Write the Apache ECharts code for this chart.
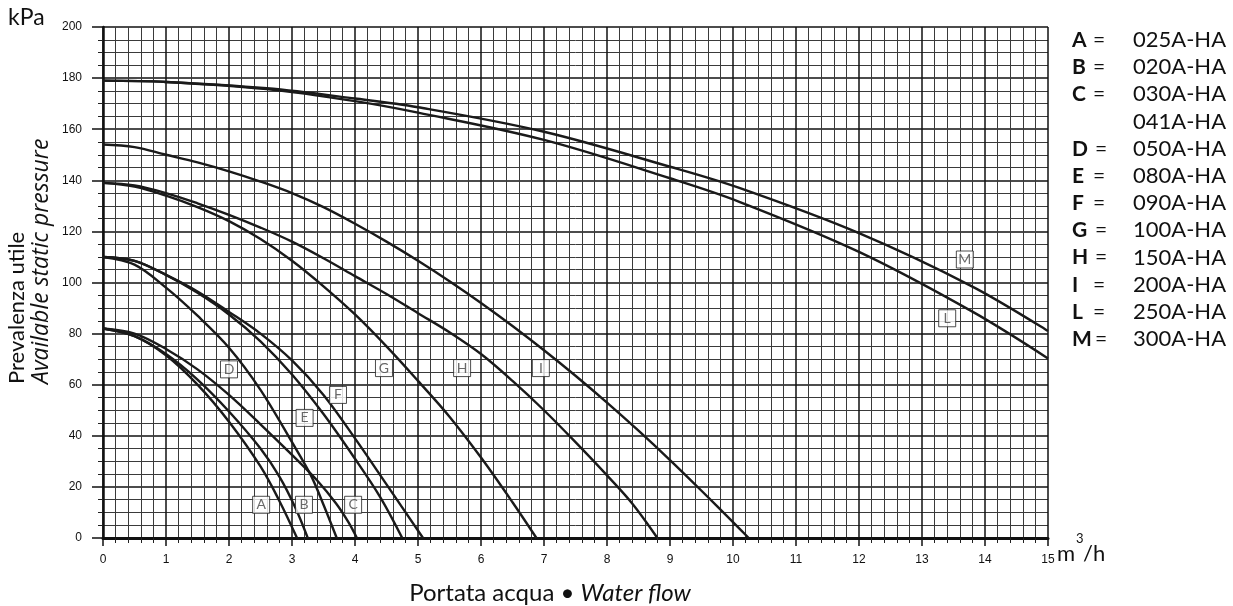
<!DOCTYPE html>
<html>
<head>
<meta charset="utf-8">
<script src="https://cdn.jsdelivr.net/npm/echarts@6/dist/echarts.min.js"></script>
<style>
  html, body { margin: 0; padding: 0; background: #fff; }
  #chart { width: 1233px; height: 606px; }
</style>
</head>
<body>
<div id="chart"></div>
<script>
// Pump curves: water flow (m3/h) vs available static pressure (kPa)
const curveA = [[0,82],[0.5,79],[1.0,71.5],[1.5,60],[2.0,45.5],[2.5,28],[2.8,14.5],[3.08,0]];
const curveB = [[0,82],[0.5,79],[1.0,72],[1.5,62],[2.0,49.5],[2.5,35],[2.8,24],[3.05,12],[3.25,0]];
const curveC = [[0,82],[0.5,80],[1.0,74],[1.5,66],[2.0,56],[2.5,44.5],[3.0,32.5],[3.4,22.5],[3.7,13.5],[3.9,6],[4.03,0]];
const curveD = [[0,110],[0.5,107],[1.0,98],[1.5,87],[2.0,74.5],[2.5,58],[3.0,37.5],[3.3,24.5],[3.5,13],[3.71,0]];
const curveE = [[0,110],[0.5,108.5],[1.0,103],[1.5,96],[2.0,87.5],[2.5,77],[3.0,64],[3.5,48.5],[4.0,31],[4.4,16],[4.75,0]];
const curveF = [[0,110],[0.5,108.5],[1.0,103],[1.5,96.5],[2.0,88.5],[2.5,80],[3.0,69.5],[3.5,56],[4.0,39],[4.5,21],[5.08,0]];
const curveG = [[0,139],[0.5,137.5],[1.0,134],[1.5,129.5],[2.0,124],[2.5,117],[3.0,108.5],[3.5,98.5],[4.0,87.5],[4.5,75],[5.0,61.5],[5.5,47.5],[6.0,31.5],[6.5,14],[6.88,0]];
const curveH = [[0,139],[0.5,138],[1.0,135],[1.5,131],[2.0,126.5],[2.5,121.5],[3.0,116],[3.5,109.5],[4.0,102.5],[4.5,95.5],[5.0,88],[5.5,80.5],[6.0,72],[6.5,61.5],[7.0,50],[7.5,37.5],[8.0,24.5],[8.4,13.5],[8.8,0]];
const curveI = [[0,154],[0.5,153],[1.0,150],[1.5,147],[2.0,143.5],[2.5,139.5],[3.0,135],[3.5,129.5],[4.0,123],[4.5,116],[5.0,108.5],[5.5,100.5],[6.0,92],[6.5,83],[7.0,73.5],[7.5,63.5],[8.0,53],[8.5,42],[9.0,30.5],[9.5,18.5],[10.0,6.2],[10.25,0]];
const curveL = [[0,179],[1.0,178.5],[2.6,175.7],[4.0,171],[5.0,166.5],[7.0,155.8],[9.0,140.8],[10.1,131.6],[12.0,112],[13.8,88.6],[15,70.3]];
const curveM = [[0,179],[1.0,178.5],[2.6,176],[4.0,172],[5.0,168.6],[7.0,159],[9.0,145.3],[10.1,137],[12.0,119.3],[13.8,98.4],[15,81]];

// Boxed letter tags placed next to each curve
const tagLetters = ['A','B','C','D','E','F','G','H','I','L','M'];
const tagPoints = [[2.51,13],[3.19,13],[3.97,13],[2.0,66],[3.2,47],[3.73,56],[4.46,66.5],[5.7,66.5],[6.95,66.5],[13.4,86],[13.68,109]];

// Legend rows: letter and unit model
const legendLetters = ['A','B','C','','D','E','F','G','H','I','L','M'];
const legendModels = ['025A-HA','020A-HA','030A-HA','041A-HA','050A-HA','080A-HA','090A-HA','100A-HA','150A-HA','200A-HA','250A-HA','300A-HA'];

const curves = [curveA, curveB, curveC, curveD, curveE, curveF, curveG, curveH, curveI, curveL, curveM];
const curveNames = ['A','B','C','D','E','F','G','H','I','L','M'];

const chart = echarts.init(document.getElementById('chart'), null, { renderer: 'canvas' });

const lineSeries = curves.map((pts, i) => ({
  name: curveNames[i],
  type: 'line',
  data: pts,
  smooth: 0.35,
  symbol: 'none',
  lineStyle: { color: '#1a1a1a', width: 2.4 },
  z: 3
}));

const tagSeries = {
  type: 'scatter',
  data: tagPoints.map((p, i) => ({ value: p, name: tagLetters[i] })),
  symbol: 'rect',
  symbolSize: [17, 17],
  itemStyle: { color: '#fff', borderColor: '#222', borderWidth: 1 },
  label: {
    show: true,
    position: 'inside',
    formatter: p => p.name,
    color: '#444',
    fontFamily: 'Lato',
    fontSize: 14
  },
  z: 5
};

const ink = '#111';
const graphics = [];
graphics.push({ type: 'text', x: 8, y: 18, style: { text: 'kPa', font: '23px Lato', fill: ink, textVerticalAlign: 'middle' } });
graphics.push({ type: 'text', x: 17, y: 384, rotation: Math.PI / 2,
  style: { text: 'Prevalenza utile', font: '22px Lato', fill: ink, textAlign: 'left', textVerticalAlign: 'middle' } });
graphics.push({ type: 'text', x: 41, y: 384, rotation: Math.PI / 2,
  style: { text: 'Available static pressure', font: 'italic 23px "Open Sans"', fill: ink, textAlign: 'left', textVerticalAlign: 'middle' } });
graphics.push({ type: 'text', x: 550, y: 593,
  style: { text: '{n|Portata acqua • }{i|Water flow}', textAlign: 'center', textVerticalAlign: 'middle',
    rich: { n: { font: '24px Lato', fill: ink }, i: { font: 'italic 24px Lato', fill: ink } } } });
graphics.push({ type: 'text', x: 1057, y: 554, style: { text: 'm', font: '22px Lato', fill: ink, textVerticalAlign: 'middle' } });
graphics.push({ type: 'text', x: 1076, y: 539, style: { text: '3', font: '13px Lato', fill: ink, textVerticalAlign: 'middle' } });
graphics.push({ type: 'text', x: 1083, y: 554, style: { text: '/h', font: '22px Lato', fill: ink, textVerticalAlign: 'middle' } });

const wideLetters = { D: 1, G: 1, H: 1, M: 1 };
legendModels.forEach((m, i) => {
  const y = 40 + i * 27.2;
  const L = legendLetters[i];
  if (L) {
    graphics.push({ type: 'text', x: 1072, y, style: { text: L, font: 'bold 21px Lato', fill: ink, textVerticalAlign: 'middle' } });
    graphics.push({ type: 'text', x: wideLetters[L] ? 1095 : 1093, y, style: { text: '=', font: '21px Lato', fill: ink, textVerticalAlign: 'middle' } });
  }
  graphics.push({ type: 'text', x: 1133, y, style: { text: m, font: '22px Lato', fill: ink, textVerticalAlign: 'middle' } });
});

chart.setOption({
  animation: false,
  backgroundColor: '#fff',
  grid: { left: 103, right: 185, top: 27, bottom: 68, containLabel: false },
  xAxis: {
    type: 'value', min: 0, max: 15, interval: 1,
    axisLine: { show: true, lineStyle: { color: ink, width: 3 } },
    axisTick: { show: true, length: 8, lineStyle: { color: ink, width: 1.5 } },
    minorTick: { show: true, splitNumber: 5, length: 5, lineStyle: { color: '#222', width: 1 } },
    axisLabel: { color: ink, fontFamily: 'Liberation Sans', fontSize: 12, margin: 16 },
    splitLine: { show: true, lineStyle: { color: ink, width: 1.5 } },
    minorSplitLine: { show: true, lineStyle: { color: '#3a3a3a', width: 1 } }
  },
  yAxis: {
    type: 'value', min: 0, max: 200, interval: 20,
    axisLine: { show: true, lineStyle: { color: ink, width: 2.5 } },
    axisTick: { show: true, length: 11, lineStyle: { color: ink, width: 1.5 } },
    minorTick: { show: true, splitNumber: 4, length: 5, lineStyle: { color: '#222', width: 1 } },
    axisLabel: { color: ink, fontFamily: 'Liberation Sans', fontSize: 12, margin: 21 },
    splitLine: { show: true, lineStyle: { color: ink, width: 1.5 } },
    minorSplitLine: { show: true, lineStyle: { color: '#3a3a3a', width: 1 } }
  },
  series: [...lineSeries, tagSeries],
  graphic: graphics
});
</script>
</body>
</html>
